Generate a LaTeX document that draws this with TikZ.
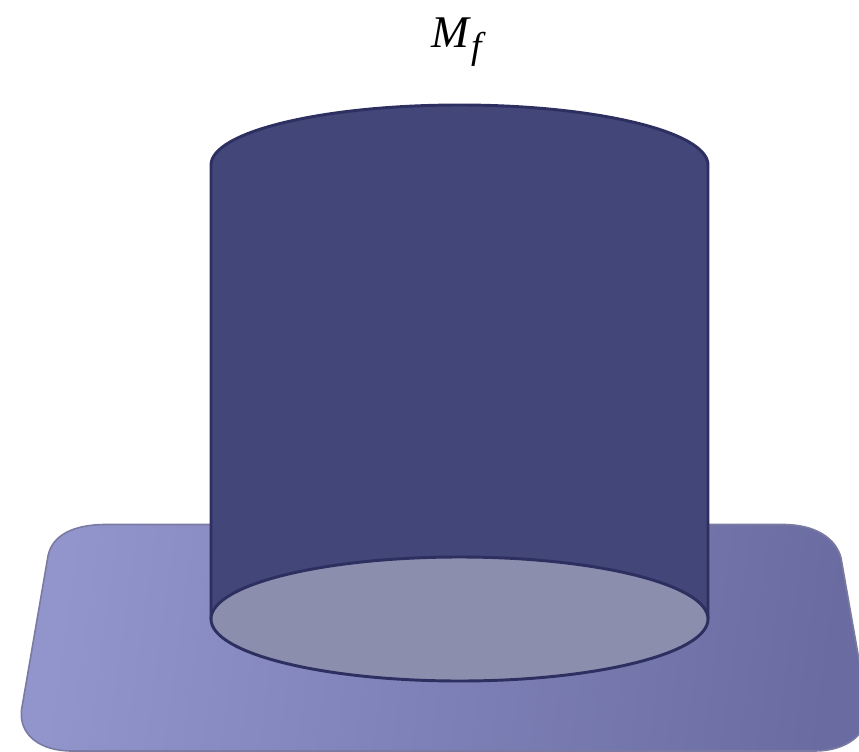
\documentclass[tikz,border=0pt]{standalone}
\usepackage{fontspec}
\setmainfont{Liberation Serif}
\definecolor{plateL}{RGB}{145,149,204}
\definecolor{plateR}{RGB}{106,108,161}
\definecolor{plateEdge}{RGB}{122,122,162}
\definecolor{cyl}{RGB}{66,70,120}
\definecolor{cylEdge}{RGB}{45,47,96}
\definecolor{hole}{RGB}{140,142,173}
\tikzset{
  cylstroke/.style={draw=cylEdge,line width=2.2pt,line join=round},
  platefill/.style={left color=plateL,right color=plateR,shading angle=82},
}
\begin{document}
\begin{tikzpicture}[x=0.75pt,y=-0.75pt]
\useasboundingbox (0,0) rectangle (859,752);
\clip (0,0) rectangle (859,752);
% plate
\def\platepath{(48,556) .. controls (52,536) and (72,524.5) .. (106,524.5)
  -- (783,524.5) .. controls (815,524.5) and (836,538) .. (841,558)
  -- (867,705) .. controls (871,735) and (845,751) .. (815,751)
  -- (72,751) .. controls (40,751) and (19,735) .. (21.5,710) -- cycle}
\shade[platefill] \platepath;
\draw[plateEdge,line width=1.2pt] \platepath;
% cylinder body
\path[fill=cyl,cylstroke] (211,165) .. controls (211,132) and (322,105) .. (459.5,105)
  .. controls (597,105) and (708,132) .. (708,165) -- (708,619) -- (211,619) -- cycle;
% bottom ellipse
\path[fill=hole,cylstroke] (459.5,619) ellipse [x radius=248.5, y radius=62];
% label
\node[inner sep=0pt,anchor=base west,font=\fontsize{34}{36}\selectfont\itshape] (lbl) at (431,48)
  {M\kern1.5pt\raisebox{-0.24em}{\fontsize{28}{30}\selectfont f}};
\end{tikzpicture}
\end{document}
